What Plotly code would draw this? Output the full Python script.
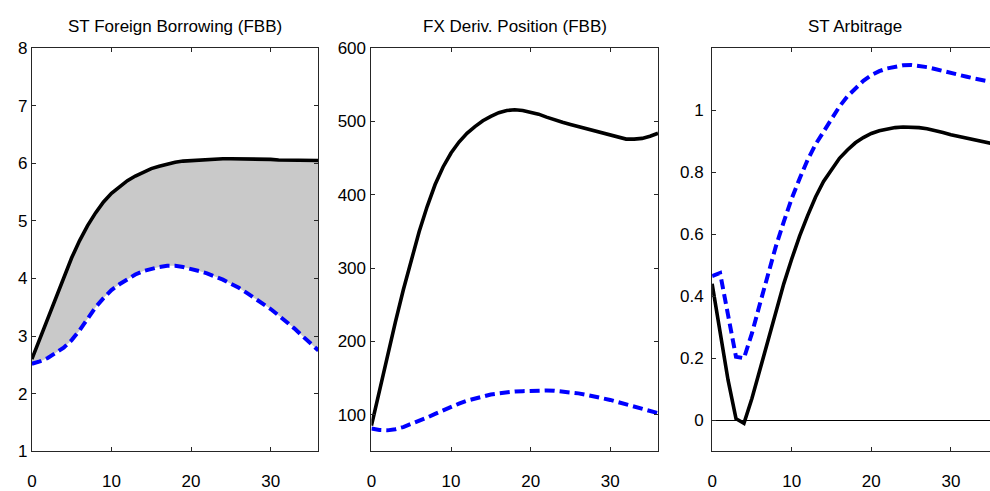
import plotly.graph_objects as go

# Horizon (months)
horizon = list(range(37))

# ST foreign borrowing (FBB)
borrow_solid = [2.60, 2.96, 3.31, 3.67, 4.02, 4.36, 4.66, 4.92, 5.14, 5.33, 5.48,
                5.60, 5.70, 5.78, 5.85, 5.91, 5.95, 5.99, 6.02, 6.04, 6.05,
                6.06, 6.07, 6.08, 6.08, 6.08, 6.08, 6.08, 6.08, 6.07, 6.07,
                6.06, 6.06, 6.06, 6.05, 6.05, 6.05]
borrow_dash = [2.52, 2.56, 2.62, 2.70, 2.80, 2.93, 3.10, 3.30, 3.50, 3.66, 3.80,
               3.90, 3.99, 4.07, 4.13, 4.17, 4.20, 4.22, 4.22, 4.20, 4.17,
               4.13, 4.09, 4.04, 3.98, 3.91, 3.84, 3.75, 3.66, 3.57, 3.47,
               3.36, 3.25, 3.13, 3.00, 2.88, 2.75]

# FX derivative position (FBB)
deriv_solid = [85, 133, 180, 226, 270, 312, 350, 384, 414, 438, 457,
               472, 484, 493, 501, 507, 512, 515, 516, 515, 513,
               510, 506, 502, 499, 496, 493, 490, 487, 484, 481,
               478, 476, 476, 477, 480, 484]
deriv_dash = [81, 79, 78.5, 80, 83, 87, 91, 96, 101, 106, 111,
              115, 119, 122, 125, 127.5, 129, 130.5, 131.5, 132, 132.5,
              133, 133, 132.5, 131.5, 130.5, 129, 127, 125, 122.5, 120,
              117, 114, 111, 108, 105, 102]

# ST arbitrage
arb_solid = [0.44, 0.29, 0.13, 0.005, -0.01, 0.07, 0.165, 0.26, 0.355, 0.44, 0.52,
             0.595, 0.66, 0.72, 0.77, 0.81, 0.845, 0.872, 0.895, 0.912, 0.925,
             0.934, 0.94, 0.944, 0.946, 0.946, 0.944, 0.94, 0.935, 0.928, 0.921,
             0.915, 0.909, 0.903, 0.898, 0.893, 0.888]
arb_dash = [0.465, 0.475, 0.34, 0.205, 0.20, 0.28, 0.375, 0.47, 0.56, 0.64, 0.715,
            0.78, 0.84, 0.89, 0.93, 0.975, 1.012, 1.045, 1.072, 1.095, 1.113,
            1.126, 1.135, 1.141, 1.145, 1.146, 1.144, 1.139, 1.133, 1.126, 1.12,
            1.114, 1.108, 1.102, 1.097, 1.092, 1.087]

titles = ["ST Foreign Borrowing (FBB)", "FX Deriv. Position (FBB)", "ST Arbitrage"]
x_ticks = [0, 10, 20, 30]
y_ticks_1 = [1, 2, 3, 4, 5, 6, 7, 8]
y_ticks_2 = [100, 200, 300, 400, 500, 600]
y_ticks_3 = [0, 0.2, 0.4, 0.6, 0.8, 1]

W, H = 990, 491
FONT = "Liberation Sans, Arial, sans-serif"
BLACK = "#000000"
BLUE = "#0000ff"
AXIS = "#262626"

# panel geometry in pixels
left_px = [27.0, 368.3, 710.7]
panel_w = 288.0
top_px, bottom_px = 41.0, 462.0
px_per_unit = panel_w / 36.0

fig = go.Figure()

solid_line = dict(color=BLACK, width=3.6)
dash_line = dict(color=BLUE, width=4, dash="10px,5px")

# panel 1: shaded gap between the two paths
fig.add_trace(go.Scatter(x=horizon, y=borrow_solid, mode="lines", line=solid_line,
                         xaxis="x", yaxis="y", showlegend=False))
fig.add_trace(go.Scatter(x=horizon, y=borrow_dash, mode="lines", line=dash_line,
                         fill="tonexty", fillcolor="#c9c9c9",
                         xaxis="x", yaxis="y", showlegend=False))

# panel 2
fig.add_trace(go.Scatter(x=horizon, y=deriv_dash, mode="lines", line=dash_line,
                         xaxis="x2", yaxis="y2", showlegend=False))
fig.add_trace(go.Scatter(x=horizon, y=deriv_solid, mode="lines", line=solid_line,
                         xaxis="x2", yaxis="y2", showlegend=False))

# panel 3
fig.add_trace(go.Scatter(x=horizon, y=arb_dash, mode="lines", line=dash_line,
                         xaxis="x3", yaxis="y3", showlegend=False))
fig.add_trace(go.Scatter(x=horizon, y=arb_solid, mode="lines", line=solid_line,
                         xaxis="x3", yaxis="y3", showlegend=False))

y_dom = [(H - bottom_px) / H, (H - top_px) / H]
tick_font = dict(family=FONT, size=17, color=BLACK)

def x_axis(i, anchor):
    x0 = left_px[i] / W
    x1 = min((left_px[i] + panel_w) / W, 1.0)
    right_val = (min(left_px[i] + panel_w, W) - left_px[i]) / px_per_unit
    return dict(domain=[x0, x1], range=[0, right_val], anchor=anchor,
                tickvals=x_ticks, ticks="inside", ticklen=4, tickcolor=AXIS,
                showline=True, linecolor=AXIS, linewidth=1,
                mirror="ticks", showgrid=False, zeroline=False,
                tickfont=tick_font, ticklabelstandoff=14, fixedrange=True)

def y_axis(anchor, rng, tv, mirror=True, standoff=0):
    return dict(domain=y_dom, range=rng, anchor=anchor,
                tickvals=tv, ticks="inside", ticklen=4, tickcolor=AXIS,
                showline=True, linecolor=AXIS, linewidth=1,
                mirror="ticks" if mirror else False, showgrid=False,
                zeroline=False, tickfont=tick_font, ticklabelstandoff=standoff,
                fixedrange=True)

fig.update_layout(
    width=W, height=H, autosize=False,
    margin=dict(l=0, r=0, t=0, b=0, pad=0),
    paper_bgcolor="white", plot_bgcolor="white",
    showlegend=False,
    xaxis=x_axis(0, "y"),
    xaxis2=x_axis(1, "y2"),
    xaxis3=x_axis(2, "y3"),
    yaxis=y_axis("x", [1, 8], y_ticks_1),
    yaxis2=y_axis("x2", [50, 600], y_ticks_2, standoff=1),
    yaxis3=y_axis("x3", [-0.1, 1.2], y_ticks_3, mirror=False, standoff=4),
)
fig.layout.yaxis3.update(zeroline=True, zerolinecolor=BLACK, zerolinewidth=1)

# panel titles centred over each full panel
for i, t in enumerate(titles):
    cx = (left_px[i] + panel_w / 2) / W
    fig.add_annotation(text=t, x=cx, y=(H - 18) / H, xref="paper", yref="paper",
                       xanchor="center", yanchor="middle", showarrow=False,
                       font=dict(family=FONT, size=17, color=BLACK))

fig.write_html("out.html")
